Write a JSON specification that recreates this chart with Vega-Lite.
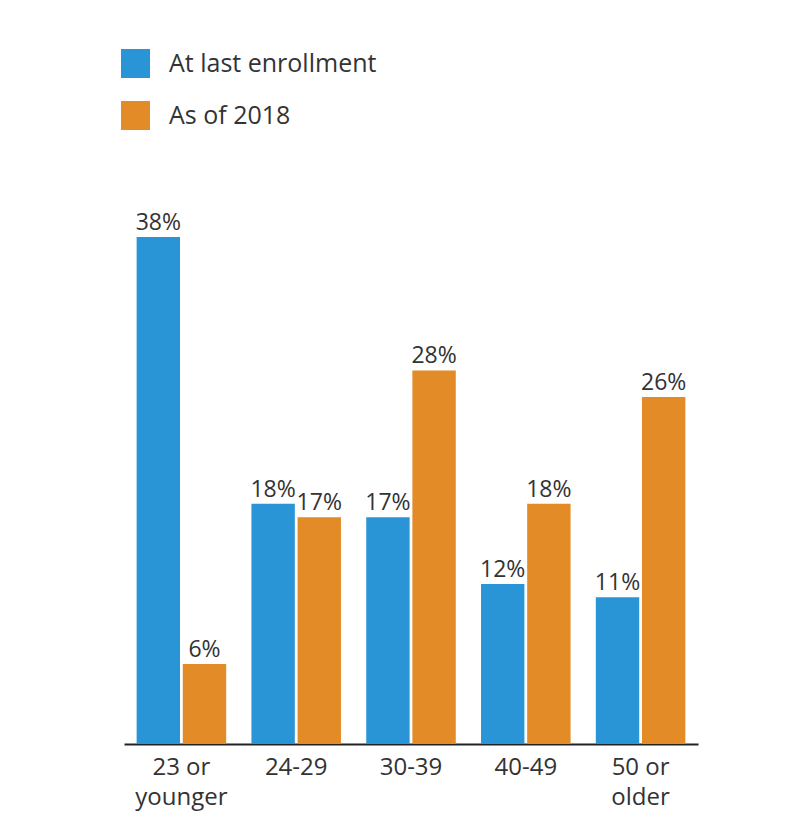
{
  "$schema": "https://vega.github.io/schema/vega-lite/v6.json",
  "width": 574,
  "height": 507,
  "autosize": {"type": "none"},
  "padding": {"left": 124, "top": 237, "right": 97, "bottom": 91},
  "background": "white",
  "data": {"values": [
    {"age": "23 or younger", "series": "At last enrollment", "pct": 38},
    {"age": "23 or younger", "series": "As of 2018", "pct": 6},
    {"age": "24-29", "series": "At last enrollment", "pct": 18},
    {"age": "24-29", "series": "As of 2018", "pct": 17},
    {"age": "30-39", "series": "At last enrollment", "pct": 17},
    {"age": "30-39", "series": "As of 2018", "pct": 28},
    {"age": "40-49", "series": "At last enrollment", "pct": 12},
    {"age": "40-49", "series": "As of 2018", "pct": 18},
    {"age": "50 or older", "series": "At last enrollment", "pct": 11},
    {"age": "50 or older", "series": "As of 2018", "pct": 26}
  ]},
  "encoding": {
    "x": {"field": "age", "type": "nominal", "sort": null,
      "scale": {"paddingInner": 0.22, "paddingOuter": 0.11},
      "axis": {"title": null, "labelAngle": 0, "ticks": false, "domainColor": "#222", "domainWidth": 2,
        "labelFont": "Open Sans", "labelFontSize": 24, "labelColor": "#333", "labelPadding": 11,
        "labelLineHeight": 30, "labelBaseline": "top",
        "labelExpr": "datum.value == '23 or younger' ? ['23 or', 'younger'] : datum.value == '50 or older' ? ['50 or', 'older'] : datum.value"}},
    "xOffset": {"field": "series", "type": "nominal", "sort": ["At last enrollment", "As of 2018"], "scale": {"paddingInner": 0.06}},
    "y": {"field": "pct", "type": "quantitative", "scale": {"domain": [0, 38], "nice": false}, "axis": null}
  },
  "layer": [
    {"mark": {"type": "bar"},
     "encoding": {"color": {"field": "series", "type": "nominal", "sort": ["At last enrollment", "As of 2018"],
       "scale": {"range": ["#2a95d6", "#e38b27"]},
       "legend": {"title": null, "orient": "none", "legendX": -3, "legendY": -188, "symbolType": "square", "symbolSize": 841,
         "symbolStrokeWidth": 0, "symbolOpacity": 1, "labelFont": "Open Sans", "labelFontSize": 25, "labelColor": "#333", "labelOffset": 19, "rowPadding": 23, "padding": 0, "labelLimit": 400}}}},
    {"mark": {"type": "text", "baseline": "alphabetic", "dy": -7, "font": "Open Sans", "fontSize": 23, "color": "#333",
       "text": {"expr": "datum.pct + '%'"}},
     "encoding": {"detail": {"field": "series"}}}
  ],
  "config": {"view": {"stroke": null}}
}
